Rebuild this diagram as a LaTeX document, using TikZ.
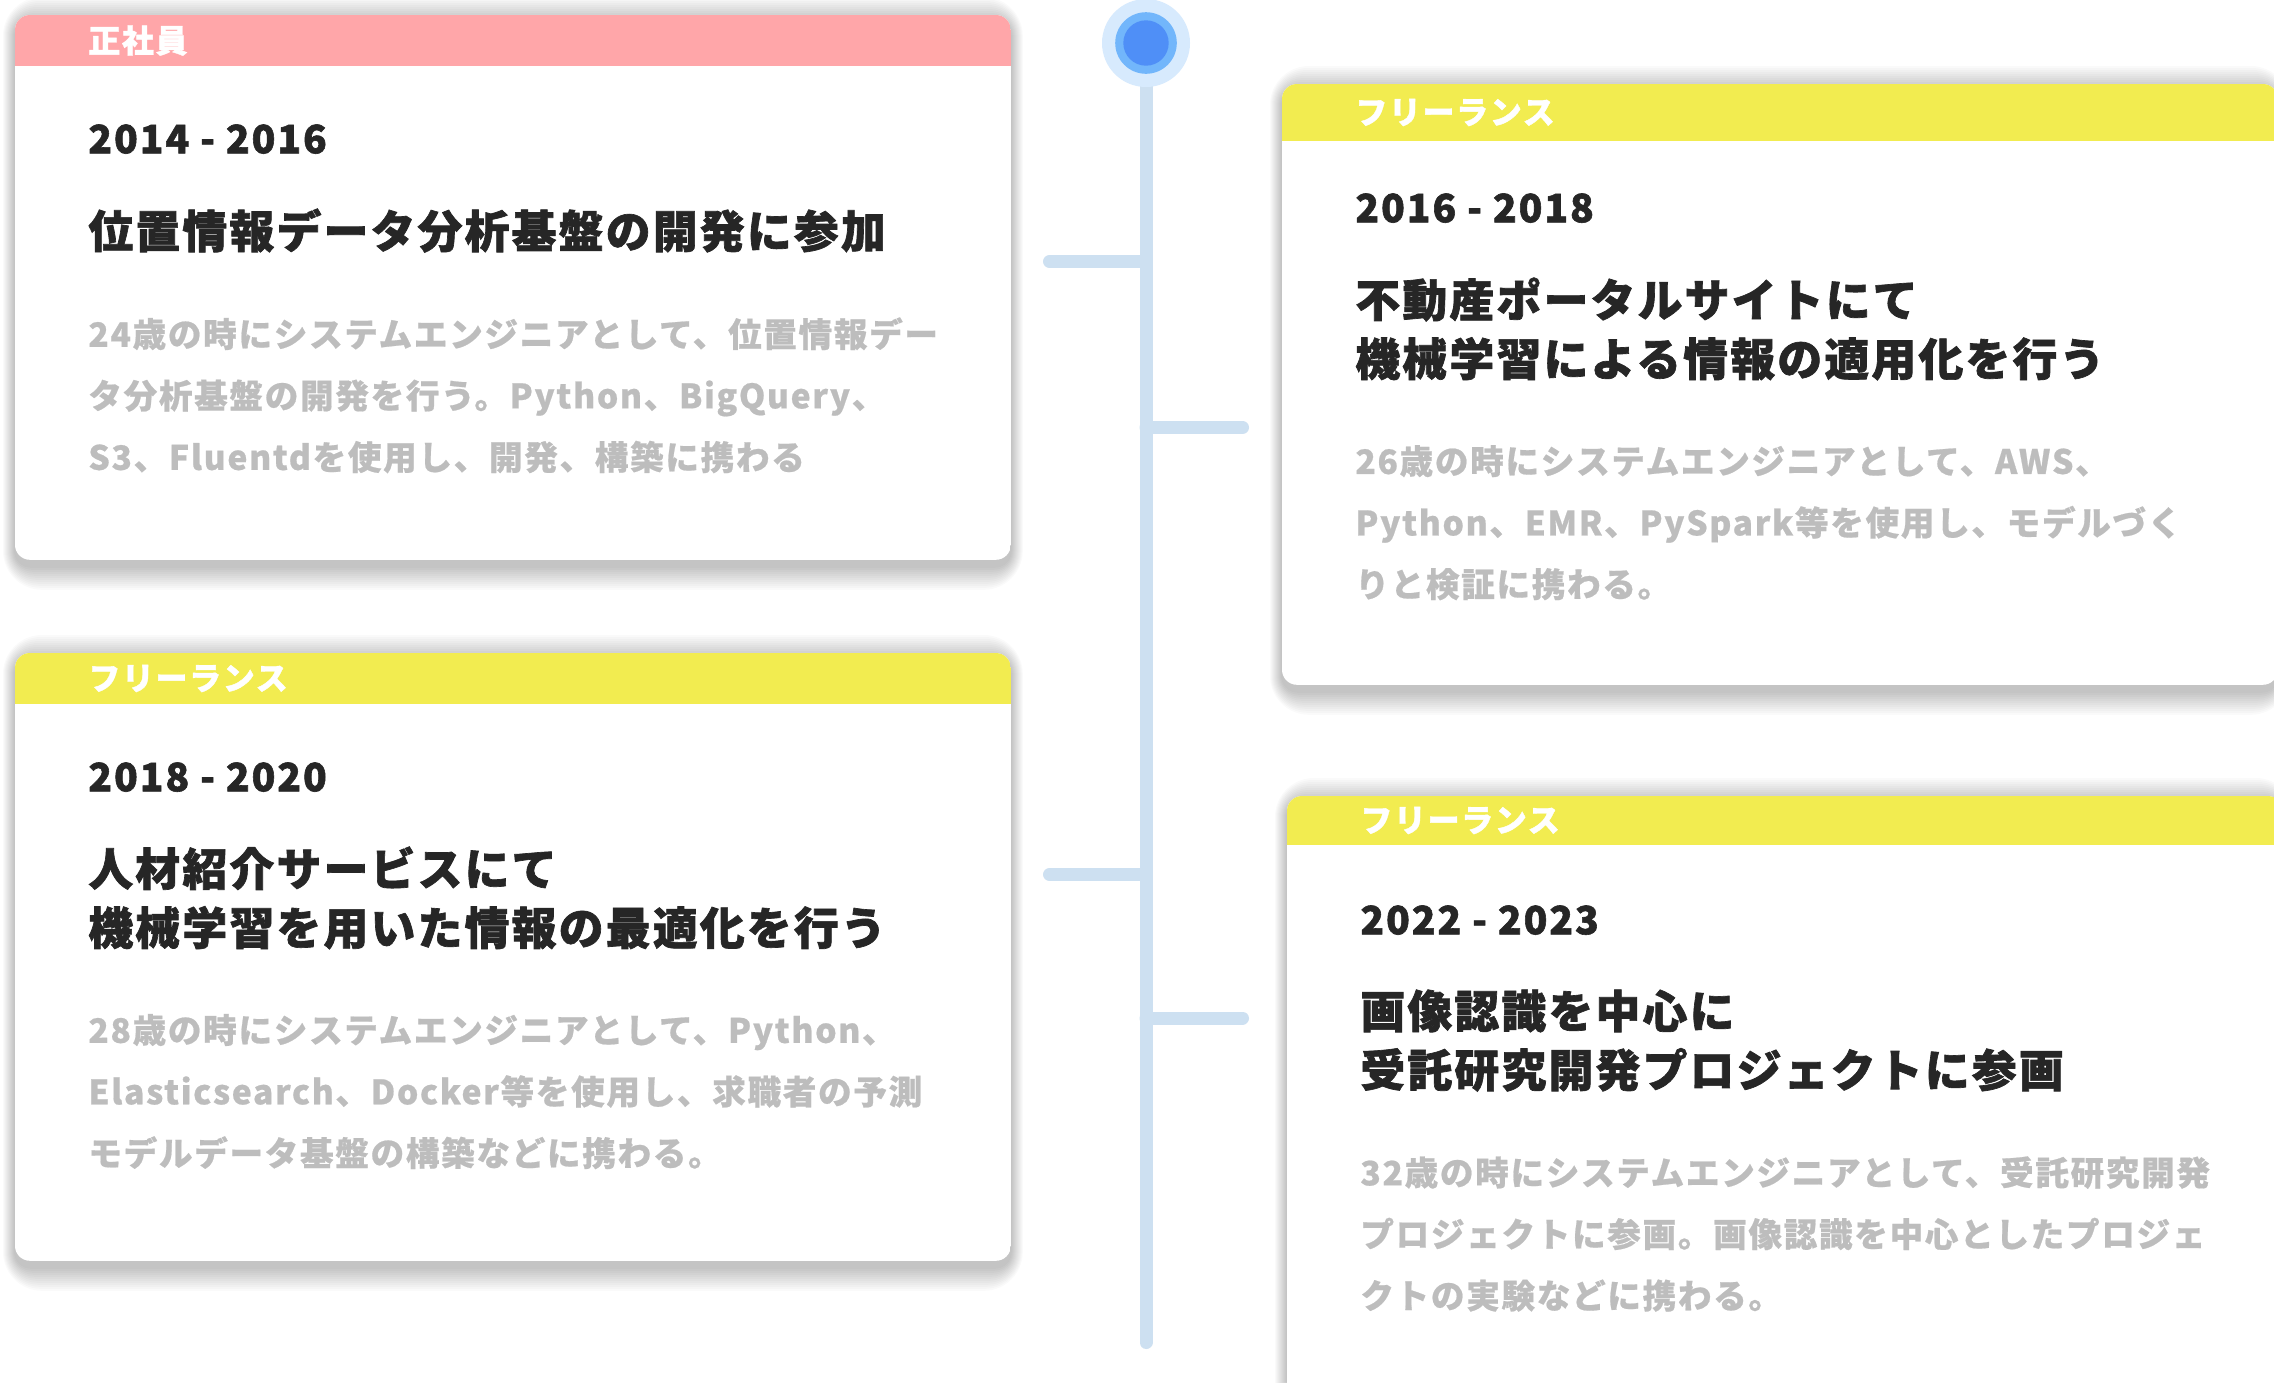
\documentclass[tikz,border=0pt]{standalone}
\usepackage{fontspec}
\setmainfont{Noto Sans CJK JP}
\usepackage{tikz}
\usetikzlibrary{positioning}
\definecolor{railblue}{HTML}{CDE0F1}
\definecolor{halo}{HTML}{D7EAFD}
\definecolor{ringblue}{HTML}{72B6FB}
\definecolor{dotblue}{HTML}{4F8FF7}
\definecolor{tagpink}{HTML}{FFA6A9}
\definecolor{tagyellow}{HTML}{F2EC50}
\definecolor{inkdark}{HTML}{262626}
\definecolor{notegray}{HTML}{BDBDBD}
\newcommand{\mFontStyle}[3]{\fontsize{#1}{#2}\selectfont\bfseries\addfontfeatures{LetterSpace=5,FakeBold=#3}}
\newcommand{\mEmployee}{正社員}
\newcommand{\mFreelance}{フリーランス}
\newcommand{\card}[9]{%
  \node[frame,minimum height=#3] (#1) at #2 {};
  \foreach \s [evaluate=\s as \r using 7.5+\s] in {1,...,12}
    \fill[black,opacity=0.018,rounded corners=\r pt]
      ([xshift=-0.5pt*\s,yshift=-3pt+\s*1pt]#1.north west) rectangle ([xshift=0.5pt*\s,yshift=-3pt-\s*1pt]#1.south east);
  \begin{scope}
    \clip[rounded corners=7.5pt] (#1.north west) rectangle (#1.south east);
    \fill[white] (#1.north west) rectangle (#1.south east);
    \fill[#5] (#1.north west) rectangle ([yshift=-#4]#1.north east);
  \end{scope}
  \node[tag] (#1-tag) at ([xshift=36.5pt,yshift=-#4/2]#1.north west) {#6};
  \node[years] (#1-year) at ([xshift=36.5pt,yshift=-54.5pt]#1.north west) {#7};
  \node[heading,below right=27pt and 0pt of #1-year.south west] (#1-title) {#8};
  \node[note,below right=32pt and 0pt of #1-title.south west] (#1-note) {#9}}

\begin{document}
\begin{tikzpicture}[x=0.5pt,y=-0.5pt,
    frame/.style={rectangle,minimum width=497.5pt,anchor=north west,inner sep=0pt},
    tag/.style={anchor=west,inner sep=0pt,text=white,font=\mFontStyle{16pt}{18pt}{1.2}},
    years/.style={anchor=north west,inner sep=0pt,text=inkdark,font=\mFontStyle{19.5pt}{22pt}{1.5}},
    heading/.style={inner sep=0pt,align=left,text=inkdark,font=\mFontStyle{22.4pt}{29.5pt}{1.5}},
    note/.style={inner sep=0pt,align=left,text=notegray,font=\mFontStyle{16.8pt}{30.75pt}{0.6}},
    rail/.style={line width=6.5pt,line cap=round,draw=railblue}]
    \useasboundingbox (0,0) rectangle (2274,1382);
    \fill[white] (0,0) rectangle (2274,1382);
    \clip (0,0) rectangle (2274,1382);
    % timeline
    \coordinate (top) at (1146,43);
    \coordinate (bottom) at (1146,1342.5);
    \draw[rail] (top) -- (bottom);
    \draw[rail] (1146,261.5) coordinate (s1) -- (1049.5,261.5) coordinate (s1end);
    \draw[rail] (1146,427.5) coordinate (s2) -- (1242.5,427.5) coordinate (s2end);
    \draw[rail] (1146,874.5) coordinate (s3) -- (1049.5,874.5) coordinate (s3end);
    \draw[rail] (1146,1018) coordinate (s4) -- (1242.5,1018) coordinate (s4end);
    \node[circle,fill=halo,minimum size=44pt,inner sep=0pt] (halo) at (top) {};
    \node[circle,fill=ringblue,minimum size=30.8pt,inner sep=0pt] (ring) at (top) {};
    \node[circle,fill=dotblue,minimum size=22.7pt,inner sep=0pt] (dot) at (top) {};
    % cards
    \card{c1}{(15,15)}{272pt}{25.5pt}{tagpink}{\mEmployee}{2014 - 2016}
      {位置情報データ分析基盤の開発に参加}
      {24歳の時にシステムエンジニアとして、位置情報デー\\タ分析基盤の開発を行う。Python、BigQuery、\\S3、Fluentdを使用し、開発、構築に携わる};
    \card{c2}{(1282,84)}{300pt}{28.5pt}{tagyellow}{\mFreelance}{2016 - 2018}
      {不動産ポータルサイトにて\\機械学習による情報の適用化を行う}
      {26歳の時にシステムエンジニアとして、AWS、\\Python、EMR、PySpark等を使用し、モデルづく\\りと検証に携わる。};
    \card{c3}{(15,653)}{303.5pt}{25.5pt}{tagyellow}{\mFreelance}{2018 - 2020}
      {人材紹介サービスにて\\機械学習を用いた情報の最適化を行う}
      {28歳の時にシステムエンジニアとして、Python、\\Elasticsearch、Docker等を使用し、求職者の予測\\モデルデータ基盤の構築などに携わる。};
    \card{c4}{(1287,796)}{300pt}{24.5pt}{tagyellow}{\mFreelance}{2022 - 2023}
      {画像認識を中心に\\受託研究開発プロジェクトに参画}
      {32歳の時にシステムエンジニアとして、受託研究開発\\プロジェクトに参画。画像認識を中心としたプロジェ\\クトの実験などに携わる。};
\end{tikzpicture}
\end{document}
